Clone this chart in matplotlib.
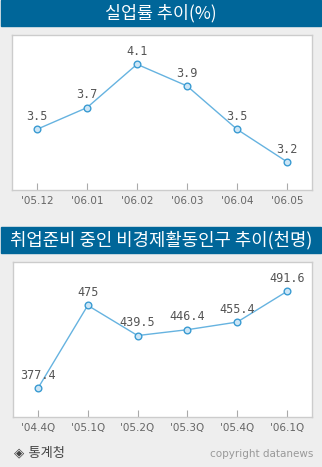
import matplotlib
matplotlib.use("Agg")
import matplotlib.pyplot as plt
from matplotlib.patches import Rectangle

plt.rcParams['font.family'] = ['Noto Sans CJK KR', 'DejaVu Sans']

W, H = 322, 467

months = ["'05.12", "'06.01", "'06.02", "'06.03", "'06.04", "'06.05"]
unemp = [3.5, 3.7, 4.1, 3.9, 3.5, 3.2]
unemp_labels = ["3.5", "3.7", "4.1", "3.9", "3.5", "3.2"]

quarters = ["'04.4Q", "'05.1Q", "'05.2Q", "'05.3Q", "'05.4Q", "'06.1Q"]
prep = [377.4, 475, 439.5, 446.4, 455.4, 491.6]
prep_labels = ["377.4", "475", "439.5", "446.4", "455.4", "491.6"]

BAND = "#006699"
BG = "#eeeeee"
LINE = "#66b3e0"
FACE = "#cde6f6"
EDGE = "#3a9bd2"


def px_rect(x0, y0, x1, y1):
    # pixel box (top-left origin) -> figure fraction
    return [x0 / W, 1 - y1 / H, (x1 - x0) / W, (y1 - y0) / H]


def band(fig, y0, y1, text, size):
    fig.patches.append(Rectangle((1 / W, 1 - y1 / H), (W - 2) / W, (y1 - y0) / H,
                                 transform=fig.transFigure, color=BAND, zorder=0))
    fig.text(0.5, 1 - (y0 + y1) / 2 / H, text, color="white", fontsize=size,
             fontweight="medium", ha="center", va="center")


def panel(fig, box, cats, vals, labels, ylim):
    ax = fig.add_axes(px_rect(*box))
    x = range(len(cats))
    ax.plot(x, vals, color=LINE, lw=1, marker="o", ms=4.8,
            mfc=FACE, mec=EDGE, mew=1, zorder=3)
    for xi, v, t in zip(x, vals, labels):
        ax.annotate(t, (xi, v), xytext=(0, 4.5), textcoords="offset points",
                    ha="center", va="bottom", fontsize=8.5, color="#555555",
                    family="DejaVu Sans Mono")
    ax.set_xlim(-0.5, 5.5)
    ax.set_ylim(*ylim)
    ax.set_yticks([])
    ax.set_xticks(list(x))
    ax.set_xticklabels(cats, fontsize=7.5, color="#666666", family="DejaVu Sans")
    ax.tick_params(axis="x", direction="in", length=5, color="#aaaaaa", pad=4)
    for s in ax.spines.values():
        s.set_color("#cccccc")
        s.set_linewidth(1)
    return ax


fig = plt.figure(figsize=(W / 100, H / 100), dpi=100)
fig.patch.set_facecolor(BG)

band(fig, 0, 26, "실업률 추이(%)", 12.5)
panel(fig, (12, 35, 312, 190), months, unemp, unemp_labels, (2.94, 4.37))

band(fig, 227, 253, "취업준비 중인 비경제활동인구 추이(천명)", 12.8)
panel(fig, (13, 262, 312, 417), quarters, prep, prep_labels, (343.6, 526.1))

fig.text(14 / W, 1 - 453 / H, "◈ 통계청", fontsize=9.5, color="#444444",
         ha="left", va="center", family=["DejaVu Sans", "Noto Sans CJK KR"])
fig.text(313 / W, 1 - 454 / H, "copyright datanews", fontsize=7.5,
         color="#999999", ha="right", va="center", family="DejaVu Sans")

fig.savefig("out.png", dpi=100, facecolor=BG)
